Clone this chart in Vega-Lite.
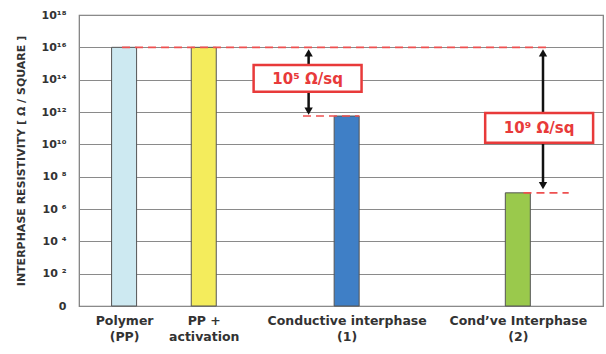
{
  "$schema": "https://vega.github.io/schema/vega-lite/v6.json",
  "autosize": "none",
  "width": 524,
  "height": 291,
  "padding": {"left": 79, "top": 15, "right": 3, "bottom": 48},
  "background": "white",
  "config": {
    "view": {"stroke": "#7a7a7a", "strokeWidth": 1.2},
    "font": "DejaVu Sans"
  },
  "datasets": {
    "bars": [
      {"name": "Polymer (PP)", "x": 7.8, "y": 16.0},
      {"name": "PP + activation", "x": 23.3, "y": 16.0},
      {"name": "Conductive interphase (1)", "x": 51.1, "y": 11.75},
      {"name": "Cond've Interphase (2)", "x": 84.4, "y": 7.0}
    ],
    "dashes": [
      {"x": 7.4, "x2": 90.8, "y": 16.0},
      {"x": 42.6, "x2": 53.6, "y": 11.75},
      {"x": 85.5, "x2": 94.3, "y": 7.0}
    ],
    "arrows": [
      {"x": 43.7, "y": 15.6, "y2": 12.1},
      {"x": 89.3, "y": 15.6, "y2": 7.5}
    ],
    "heads": [
      {"x": 43.7, "y": 15.65, "shape": "triangle-up"},
      {"x": 43.7, "y": 12.05, "shape": "triangle-down"},
      {"x": 89.3, "y": 15.65, "shape": "triangle-up"},
      {"x": 89.3, "y": 7.45, "shape": "triangle-down"}
    ],
    "boxes": [
      {"x": 33.0, "x2": 54.0, "y": 14.9, "y2": 13.25},
      {"x": 78.05, "x2": 99.05, "y": 11.94, "y2": 10.1}
    ],
    "labels": [
      {"x": 43.5, "y": 14.07, "label": "10⁵ Ω/sq"},
      {"x": 88.55, "y": 11.02, "label": "10⁹ Ω/sq"}
    ]
  },
  "encoding": {
    "x": {
      "field": "x", "type": "quantitative",
      "scale": {"domain": [0, 100], "nice": false, "zero": false},
      "axis": {
        "title": null, "grid": false, "ticks": false, "domain": false,
        "values": [7.8, 23.3, 51.1, 84.4],
        "labelExpr": "datum.value < 10 ? ['Polymer', '(PP)'] : datum.value < 30 ? ['PP +', 'activation'] : datum.value < 60 ? ['Conductive interphase', '(1)'] : ['Cond\u2019ve Interphase', '(2)']",
        "labelFont": "DejaVu Sans", "labelFontWeight": "bold", "labelFontSize": 12.5,
        "labelColor": "#333333", "labelPadding": 8, "labelLineHeight": 16,
        "labelOverlap": false, "labelBound": false, "labelFlush": false
      }
    },
    "y": {
      "field": "y", "type": "quantitative",
      "scale": {"domain": [0, 18], "nice": false},
      "axis": {
        "title": "INTERPHASE  RESISTIVITY  [ Ω / SQUARE ]",
        "titleFont": "DejaVu Sans", "titleFontWeight": "bold", "titleFontSize": 11,
        "titleColor": "#333333", "titlePadding": 15,
        "values": [0, 2, 4, 6, 8, 10, 12, 14, 16, 18],
        "labelExpr": "datum.value == 0 ? '0' : datum.value == 2 ? '10 ²' : datum.value == 4 ? '10 ⁴' : datum.value == 6 ? '10 ⁶' : datum.value == 8 ? '10 ⁸' : datum.value == 10 ? '10¹⁰' : datum.value == 12 ? '10¹²' : datum.value == 14 ? '10¹⁴' : datum.value == 16 ? '10¹⁶' : '10¹⁸'",
        "labelFont": "DejaVu Sans", "labelFontWeight": "bold", "labelFontSize": 11,
        "labelColor": "#333333", "labelPadding": 13,
        "ticks": false, "domain": false,
        "grid": true, "gridColor": "#8a8a8a", "gridWidth": 1,
        "labelOverlap": false, "labelBound": false, "labelFlush": false
      }
    }
  },
  "layer": [
    {
      "data": {"name": "bars"},
      "mark": {"type": "bar", "size": 25, "stroke": "#555555", "strokeWidth": 1},
      "encoding": {
        "color": {
          "field": "name", "type": "nominal",
          "scale": {
            "domain": ["Polymer (PP)", "PP + activation", "Conductive interphase (1)", "Cond've Interphase (2)"],
            "range": ["#cde9f1", "#f4ec5c", "#3f7fc6", "#9ac94c"]
          },
          "legend": null
        }
      }
    },
    {
      "data": {"name": "dashes"},
      "mark": {"type": "rule", "color": "#ee5050", "strokeWidth": 1.6, "strokeDash": [8, 5]},
      "encoding": {
        "x2": {"field": "x2"}
      }
    },
    {
      "data": {"name": "arrows"},
      "mark": {"type": "rule", "color": "#111111", "strokeWidth": 2.5},
      "encoding": {
        "y2": {"field": "y2"}
      }
    },
    {
      "data": {"name": "heads"},
      "mark": {"type": "point", "filled": true, "color": "#111111", "size": 70, "opacity": 1},
      "encoding": {
        "shape": {"field": "shape", "type": "nominal", "scale": null, "legend": null}
      }
    },
    {
      "data": {"name": "boxes"},
      "mark": {"type": "rect", "fill": "white", "stroke": "#e83a3a", "strokeWidth": 2.5},
      "encoding": {
        "x2": {"field": "x2"},
        "y2": {"field": "y2"}
      }
    },
    {
      "data": {"name": "labels"},
      "mark": {"type": "text", "color": "#e83a3a", "fontWeight": "bold", "fontSize": 15, "font": "DejaVu Sans", "baseline": "middle", "align": "center"},
      "encoding": {
        "text": {"field": "label"}
      }
    }
  ]
}
